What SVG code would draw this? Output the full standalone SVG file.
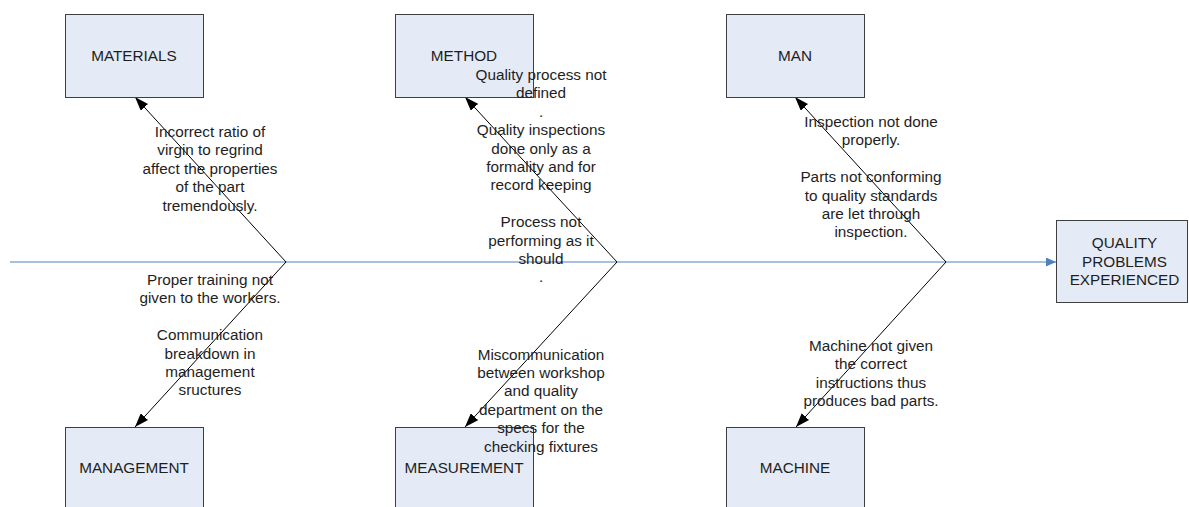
<svg xmlns="http://www.w3.org/2000/svg" width="1189" height="507" viewBox="0 0 1189 507">
  <style>
    .box { fill: #E5EBF6; stroke: #3F3F3F; stroke-width: 1; }
    .lbl { font-family: "Liberation Sans", Arial, sans-serif; font-size: 15.3px; fill: #1E1E1E; text-anchor: middle; }
    .bone { stroke: #000; stroke-width: 1; fill: none; }
    .spine { stroke: #4F81BD; stroke-width: 1; fill: none; }
  </style>
  <defs>
    <marker id="head" markerUnits="userSpaceOnUse" viewBox="0 0 14 10" refX="14" refY="5" markerWidth="14" markerHeight="10" orient="auto">
      <path d="M0,0 L14,5 L0,10 z" fill="#000"/>
    </marker>
    <marker id="spineHead" markerUnits="userSpaceOnUse" viewBox="0 0 10 9" refX="10" refY="4.5" markerWidth="10" markerHeight="9" orient="auto">
      <path d="M0,0 L10,4.5 L0,9 z" fill="#4F81BD"/>
    </marker>
  </defs>

  <!-- connectors: spine and bones -->
  <g id="connectors">
    <line class="spine" x1="10" y1="262" x2="1056" y2="262" marker-end="url(#spineHead)"/>
    <polyline class="bone" points="286,262 135,97" marker-end="url(#head)"/>
    <polyline class="bone" points="286,262 135,427" marker-end="url(#head)"/>
    <polyline class="bone" points="617,262 465,97" marker-end="url(#head)"/>
    <polyline class="bone" points="617,262 465,427" marker-end="url(#head)"/>
    <polyline class="bone" points="946,262 795,97" marker-end="url(#head)"/>
    <polyline class="bone" points="946,262 796,427" marker-end="url(#head)"/>
  </g>

  <!-- cause categories -->
  <g id="materials">
    <rect class="box" x="65.5" y="14.5" width="138" height="83"/>
    <text class="lbl" x="134" y="60.5">MATERIALS</text>
  </g>
  <g id="method">
    <rect class="box" x="395.5" y="14.5" width="138" height="83"/>
    <text class="lbl" x="464" y="60.5">METHOD</text>
  </g>
  <g id="man">
    <rect class="box" x="726.5" y="14.5" width="138" height="83"/>
    <text class="lbl" x="795" y="60.5">MAN</text>
  </g>
  <g id="management">
    <rect class="box" x="65.5" y="427.5" width="138" height="83"/>
    <text class="lbl" x="134" y="472.5">MANAGEMENT</text>
  </g>
  <g id="measurement">
    <rect class="box" x="395.5" y="427.5" width="138" height="83"/>
    <text class="lbl" x="464" y="472.5">MEASUREMENT</text>
  </g>
  <g id="machine">
    <rect class="box" x="726.5" y="427.5" width="138" height="83"/>
    <text class="lbl" x="795" y="472.5">MACHINE</text>
  </g>

  <!-- effect -->
  <g id="effect">
    <rect class="box" x="1056.5" y="220.5" width="131" height="82"/>
    <text class="lbl" x="1124.5" y="248">QUALITY</text>
    <text class="lbl" x="1124.5" y="266.5">PROBLEMS</text>
    <text class="lbl" x="1124.5" y="285">EXPERIENCED</text>
  </g>

  <!-- cause notes -->
  <g id="materials-notes">
    <text class="lbl" x="210" y="137">Incorrect ratio of</text>
    <text class="lbl" x="210" y="155.4">virgin to regrind</text>
    <text class="lbl" x="210" y="173.8">affect the properties</text>
    <text class="lbl" x="210" y="192.2">of the part</text>
    <text class="lbl" x="210" y="210.6">tremendously.</text>
  </g>
  <g id="method-notes">
    <text class="lbl" x="541" y="80">Quality process not</text>
    <text class="lbl" x="541" y="98.4">defined</text>
    <text class="lbl" x="541" y="116.8">.</text>
    <text class="lbl" x="541" y="135.2">Quality inspections</text>
    <text class="lbl" x="541" y="153.6">done only as a</text>
    <text class="lbl" x="541" y="172">formality and for</text>
    <text class="lbl" x="541" y="190.4">record keeping</text>
    <text class="lbl" x="541" y="227.2">Process not</text>
    <text class="lbl" x="541" y="245.6">performing as it</text>
    <text class="lbl" x="541" y="264">should</text>
    <text class="lbl" x="541" y="282.4">.</text>
  </g>
  <g id="man-notes">
    <text class="lbl" x="871" y="127">Inspection not done</text>
    <text class="lbl" x="871" y="145.4">properly.</text>
    <text class="lbl" x="871" y="182.2">Parts not conforming</text>
    <text class="lbl" x="871" y="200.6">to quality standards</text>
    <text class="lbl" x="871" y="219">are let through</text>
    <text class="lbl" x="871" y="237.4">inspection.</text>
  </g>
  <g id="management-notes">
    <text class="lbl" x="210" y="285">Proper training not</text>
    <text class="lbl" x="210" y="303.4">given to the workers.</text>
    <text class="lbl" x="210" y="340.2">Communication</text>
    <text class="lbl" x="210" y="358.6">breakdown in</text>
    <text class="lbl" x="210" y="377">management</text>
    <text class="lbl" x="210" y="395.4">sructures</text>
  </g>
  <g id="measurement-notes">
    <text class="lbl" x="541" y="359.6">Miscommunication</text>
    <text class="lbl" x="541" y="378">between workshop</text>
    <text class="lbl" x="541" y="396.4">and quality</text>
    <text class="lbl" x="541" y="414.8">department on the</text>
    <text class="lbl" x="541" y="433.2">specs for the</text>
    <text class="lbl" x="541" y="451.6">checking fixtures</text>
  </g>
  <g id="machine-notes">
    <text class="lbl" x="871" y="351">Machine not given</text>
    <text class="lbl" x="871" y="369.4">the correct</text>
    <text class="lbl" x="871" y="387.8">instructions thus</text>
    <text class="lbl" x="871" y="406.2">produces bad parts.</text>
  </g>
</svg>
